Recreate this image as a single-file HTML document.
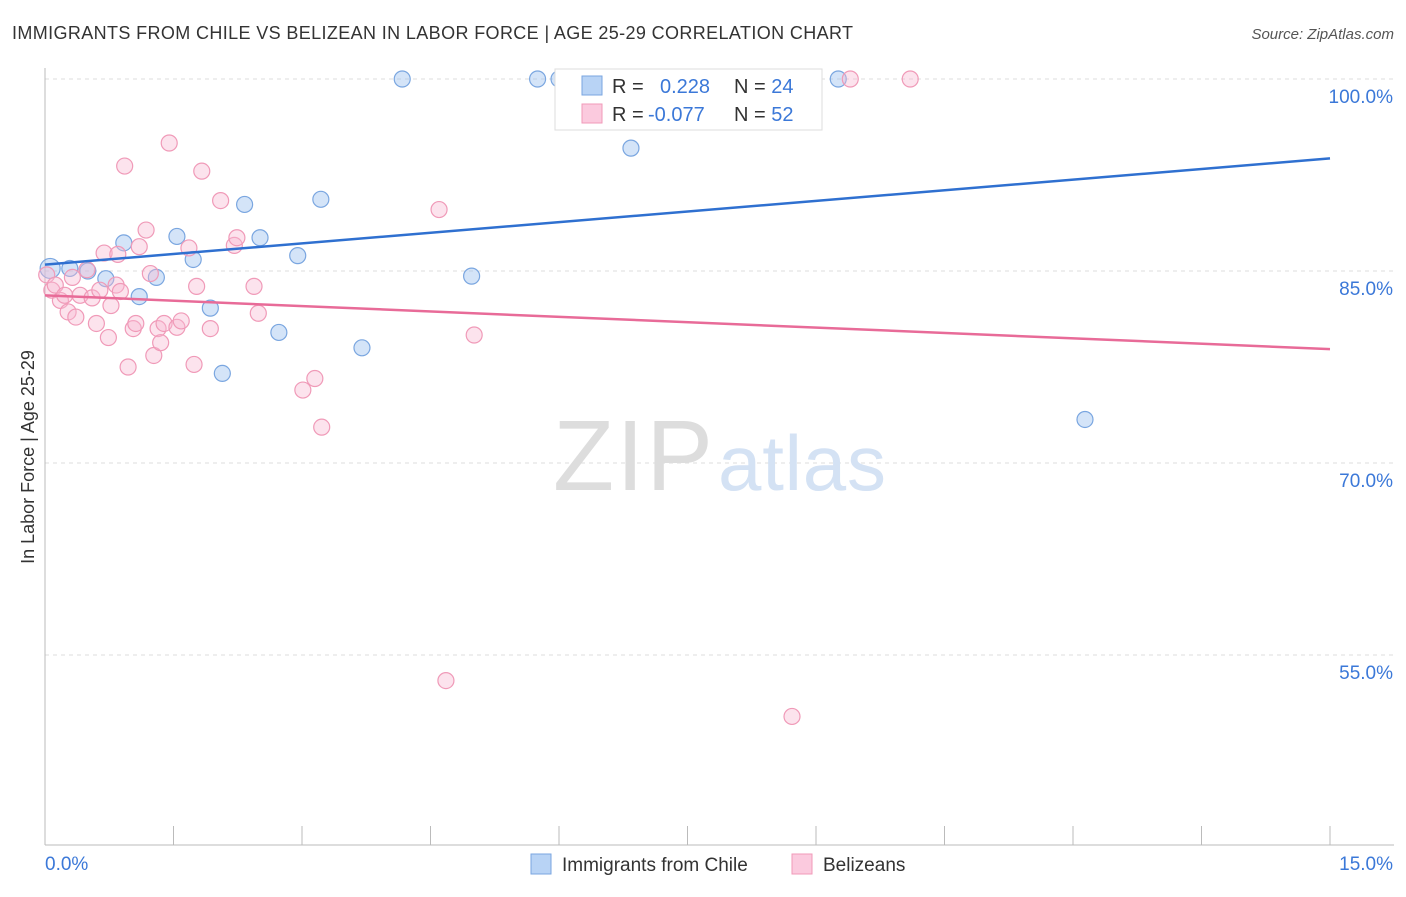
<!DOCTYPE html>
<html><head><meta charset="utf-8"><style>
body{margin:0;background:#fff;font-family:"Liberation Sans",sans-serif}
svg text{font-family:"Liberation Sans",sans-serif}
</style></head><body>
<svg id="chart" width="1406" height="892" xmlns="http://www.w3.org/2000/svg">
<text x="12" y="39" font-size="18" fill="#333" textLength="841">IMMIGRANTS FROM CHILE VS BELIZEAN IN LABOR FORCE | AGE 25-29 CORRELATION CHART</text>
<text x="1394" y="39" font-size="15" fill="#555" font-style="italic" text-anchor="end">Source: ZipAtlas.com</text>
<text transform="translate(34,457) rotate(-90)" font-size="18" fill="#333" text-anchor="middle">In Labor Force | Age 25-29</text>
<g id="grid"></g><g id="axes"></g>
<text x="553" y="490" font-size="100" fill="#ddd" font-family="Liberation Serif" textLength="160">ZIP</text>
<text x="718" y="490" font-size="78" fill="#d4e2f4" textLength="168">atlas</text>
<g id="marks"></g>
<g>
<rect x="555" y="69" width="267" height="61" fill="#fff" stroke="#ddd"/>
<rect x="582" y="76" width="20" height="19" fill="#b8d3f5" stroke="#7aa6e0"/>
<rect x="582" y="104" width="20" height="19" fill="#fbcade" stroke="#f09ab8"/>
<text x="612" y="93" font-size="20" fill="#333">R = <tspan fill="#3b78d8" x="660">0.228</tspan><tspan x="734">N = </tspan><tspan fill="#3b78d8">24</tspan></text>
<text x="612" y="121" font-size="20" fill="#333">R = <tspan fill="#3b78d8" x="648">-0.077</tspan><tspan x="734">N = </tspan><tspan fill="#3b78d8">52</tspan></text>
</g>
<g>
<rect x="531" y="854" width="20" height="20" fill="#b8d3f5" stroke="#7aa6e0"/>
<text x="562" y="871" font-size="19" fill="#333">Immigrants from Chile</text>
<rect x="792" y="854" width="20" height="20" fill="#fbcade" stroke="#f09ab8"/>
<text x="823" y="871" font-size="19" fill="#333">Belizeans</text>
</g>
</svg>
<script>
const blueX=[0.06,0.29,0.50,0.71,0.92,1.10,1.30,1.54,1.73,1.93,2.07,2.33,2.51,2.73,2.95,3.22,3.70,4.17,4.98,5.75,6.00,6.84,9.26,12.14];
const blueY=[85.2,85.2,85.0,84.4,87.2,83.0,84.5,87.7,85.9,82.1,77.0,90.2,87.6,80.2,86.2,90.6,79.0,100,84.6,100,100,94.6,100,73.4];
const pinkX=[0.02,0.08,0.12,0.18,0.23,0.27,0.32,0.36,0.41,0.49,0.55,0.60,0.64,0.69,0.74,0.77,0.83,0.85,0.88,0.93,0.97,1.03,1.06,1.10,1.18,1.23,1.27,1.32,1.35,1.39,1.45,1.54,1.59,1.68,1.74,1.77,1.83,1.93,2.05,2.21,2.24,2.44,2.49,3.01,3.15,3.23,4.60,4.68,5.01,8.72,9.40,10.10];
const pinkY=[84.7,83.5,83.9,82.7,83.1,81.8,84.5,81.4,83.1,85.1,82.9,80.9,83.5,86.4,79.8,82.3,83.9,86.3,83.4,93.2,77.5,80.5,80.9,86.9,88.2,84.8,78.4,80.5,79.4,80.9,95.0,80.6,81.1,86.8,77.7,83.8,92.8,80.5,90.5,87.0,87.6,83.8,81.7,75.7,76.6,72.8,89.8,53.0,80.0,50.2,100,100];
const blueTrend=[85.5,93.8];
const pinkTrend=[83.1,78.9];
const yTicks=[100,85,70,55];
const yTickLabels=["100.0%","85.0%","70.0%","55.0%"];
const xTickLabels=["0.0%","15.0%"];
const NS="http://www.w3.org/2000/svg";
const sx=v=>45+v*1285/15, sy=v=>79+(100-v)*192/15;
function mk(tag,at,parent){const e=document.createElementNS(NS,tag);for(const k in at)e.setAttribute(k,at[k]);document.getElementById(parent).appendChild(e);return e;}
yTicks.forEach((t,i)=>{
 const l=mk('line',{x1:45,x2:1394,y1:sy(t),y2:sy(t),stroke:'#ddd','stroke-dasharray':'4,4'},'grid');
 
 
 const tx=mk('text',{x:1393,y:sy(t)+24,'font-size':19,fill:'#3b78d8','text-anchor':'end'},'grid');
 tx.textContent=yTickLabels[i];
 
 
});
mk('line',{x1:45,x2:45,y1:68,y2:845,stroke:'#bbb'},'axes');
mk('line',{x1:45,x2:1394,y1:845,y2:845,stroke:'#bbb'},'axes');
for(let i=0;i<=10;i++){mk('line',{x1:sx(i*1.5),x2:sx(i*1.5),y1:826,y2:845,stroke:'#bbb'},'axes');}
[[0,45,'start'],[15,1393,'end']].forEach((d,i)=>{const t=mk('text',{x:d[1],y:870,'font-size':19,fill:'#3b78d8','text-anchor':d[2]},'axes');t.textContent=xTickLabels[i];
 
 });
blueX.forEach((x,i)=>{const c=mk('circle',{cx:sx(x),cy:sy(blueY[i]),r:i==0?10:8,fill:'rgba(160,195,240,0.45)',stroke:'#7aa6e0','stroke-width':1.2},'marks');
 
 });
pinkX.forEach((x,i)=>{const c=mk('circle',{cx:sx(x),cy:sy(pinkY[i]),r:8,fill:'rgba(248,185,210,0.4)',stroke:'#f09ab8','stroke-width':1.2},'marks');
 
 });
const bl=mk('line',{x1:sx(0),x2:sx(15),y1:sy(blueTrend[0]),y2:sy(blueTrend[1]),stroke:'#2f70d0','stroke-width':2.5},'marks');


const pl=mk('line',{x1:sx(0),x2:sx(15),y1:sy(pinkTrend[0]),y2:sy(pinkTrend[1]),stroke:'#e86b98','stroke-width':2.5},'marks');


</script>
</body></html>
